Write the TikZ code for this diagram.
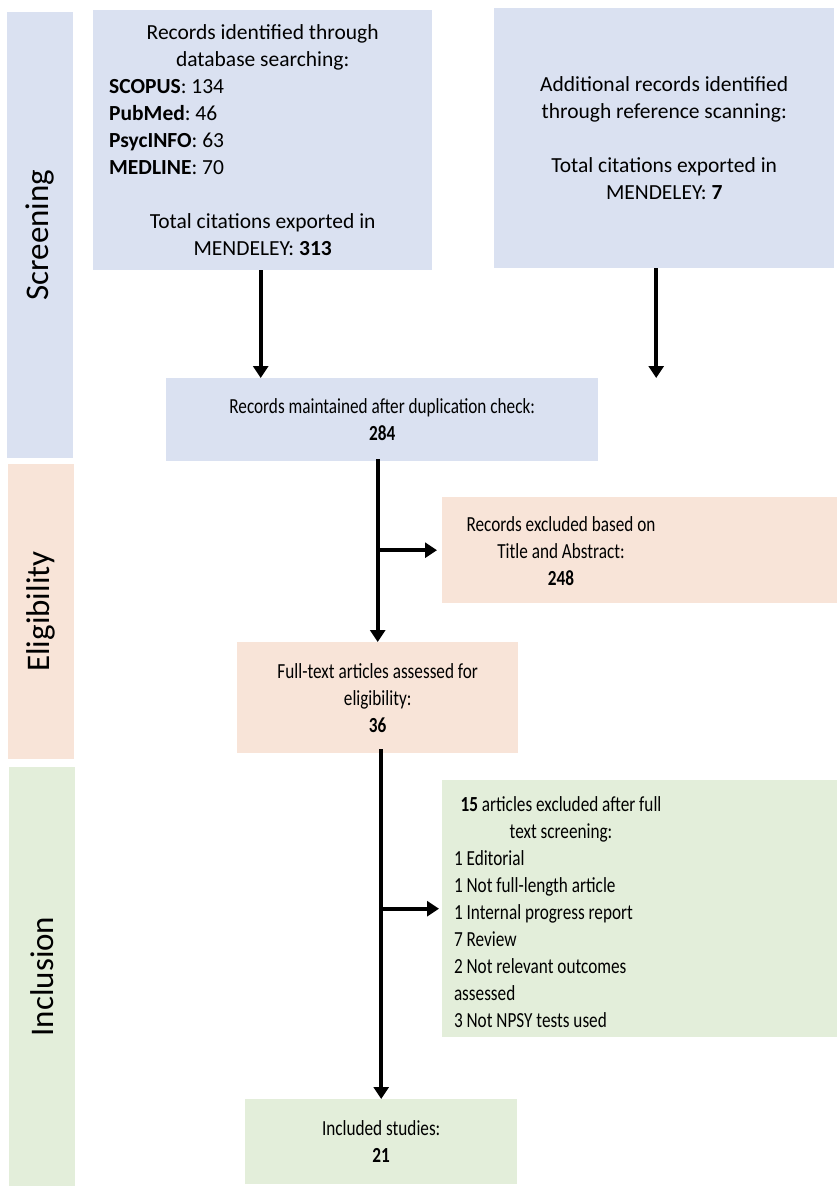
\documentclass[tikz,border=0pt]{standalone}
\usepackage{fontspec}
\setmainfont{Carlito}
\newfontfamily\narrowfont{Carlito}[FakeStretch=0.8]
\usetikzlibrary{arrows.meta}

\definecolor{scrblue}{RGB}{218,225,241}
\definecolor{elipeach}{RGB}{248,228,216}
\definecolor{incgreen}{RGB}{227,238,218}

% one line of a list, set flush left in a column of the given width
\newcommand{\listline}[2]{\makebox[#1][l]{#2}}
\newcommand{\midline}[2]{\makebox[#1][c]{#2}}

\tikzset{
  phase/.style={rotate=90, inner sep=0pt, minimum height=66pt,
    font=\fontsize{33}{38}\selectfont},
  stepbox/.style={inner xsep=16pt, inner ysep=0pt, anchor=north west,
    align=center, font=\fontsize{21.5}{27}\selectfont},
  narrowbox/.style={stepbox, font=\narrowfont\fontsize{21.5}{27}\selectfont},
  lowbox/.style={inner sep=0pt, anchor=north west},
  lowtext/.style={inner sep=0pt, align=center,
    font=\narrowfont\fontsize{21.5}{27}\selectfont},
  flow/.style={line width=4pt, -{Triangle[width=15pt,length=12pt]}},
}

\begin{document}
\frenchspacing
\begin{tikzpicture}[x=1pt, y=-1pt]
\useasboundingbox (0,0) rectangle (837,1186);

% phase bars on the left
\node[phase, fill=scrblue, minimum width=446pt] (scr) at (40,235) {Screening};
\node[phase, fill=elipeach, minimum width=295pt] (eli) at (41,611.5) {Eligibility};
\node[phase, fill=incgreen, minimum width=419pt] (inc) at (42,976.5) {Inclusion};

% identification
\node[stepbox, fill=scrblue, minimum width=339pt, minimum height=260pt]
      (db) at (93,10) {%
  \midline{307pt}{Records identified through}\\
  \midline{307pt}{database searching:}\\
  \listline{307pt}{\textbf{SCOPUS}: 134}\\
  \listline{307pt}{\textbf{PubMed}: 46}\\
  \listline{307pt}{\textbf{PsycINFO}: 63}\\
  \listline{307pt}{\textbf{MEDLINE}: 70}\\[27pt]
  \midline{307pt}{Total citations exported in}\\
  \midline{307pt}{MENDELEY: \textbf{313}}};

\node[stepbox, fill=scrblue, minimum width=340pt, minimum height=260pt]
      (refs) at (494,8) {%
  Additional records identified\\
  through reference scanning:\\[27pt]
  Total citations exported in\\
  MENDELEY: \textbf{7}};

% duplication check
\node[narrowbox, fill=scrblue, minimum width=432pt, minimum height=83pt]
      (dup) at (166,378) {%
  Records maintained after duplication check:\\
  \textbf{284}};

% title/abstract exclusion
\node[lowbox, fill=elipeach, minimum width=395pt, minimum height=106pt]
      (ex1box) at (442,497) {};
\node[lowtext] (ex1) at (561,551) {%
  Records excluded based on\\
  Title and Abstract:\\
  \textbf{248}};

% full text
\node[narrowbox, fill=elipeach, minimum width=281pt, minimum height=111pt]
      (full) at (237,642) {%
  Full-text articles assessed for\\
  eligibility:\\
  \textbf{36}};

% full-text exclusion
\node[lowbox, fill=incgreen, minimum width=395pt, minimum height=257pt]
      (ex2box) at (442,780) {};
\node[lowtext] (ex2) at (561,912) {%
  \midline{214pt}{\textbf{15} articles excluded after full}\\
  \midline{214pt}{text screening:}\\
  \listline{214pt}{1 Editorial}\\
  \listline{214pt}{1 Not full-length article}\\
  \listline{214pt}{1 Internal progress report}\\
  \listline{214pt}{7 Review}\\
  \listline{214pt}{2 Not relevant outcomes}\\
  \listline{214pt}{assessed}\\
  \listline{214pt}{3 Not NPSY tests used}};

% included
\node[narrowbox, fill=incgreen, minimum width=272pt, minimum height=85pt]
      (incl) at (245,1099) {%
  Included studies:\\
  \textbf{21}};

% connectors
\draw[flow] ([xshift=-2pt]db.south) -- ([xshift=-2pt]db.south |- dup.north);
\draw[flow] ([xshift=-8pt]refs.south) -- ([xshift=-8pt]refs.south |- dup.north);

\coordinate (d1) at (full.north |- dup.south);
\draw[flow] ([yshift=2pt]d1) -- (full.north);
\draw[flow, shorten >=5pt] (full.north |- ex1box.west) -- (ex1box.west);

\coordinate (d2) at (incl.north |- full.south);
\draw[flow] ([yshift=4pt]d2) -- (incl.north);
\draw[flow, shorten >=3pt] (incl.north |- ex2box.west) -- (ex2box.west);
\end{tikzpicture}
\end{document}
